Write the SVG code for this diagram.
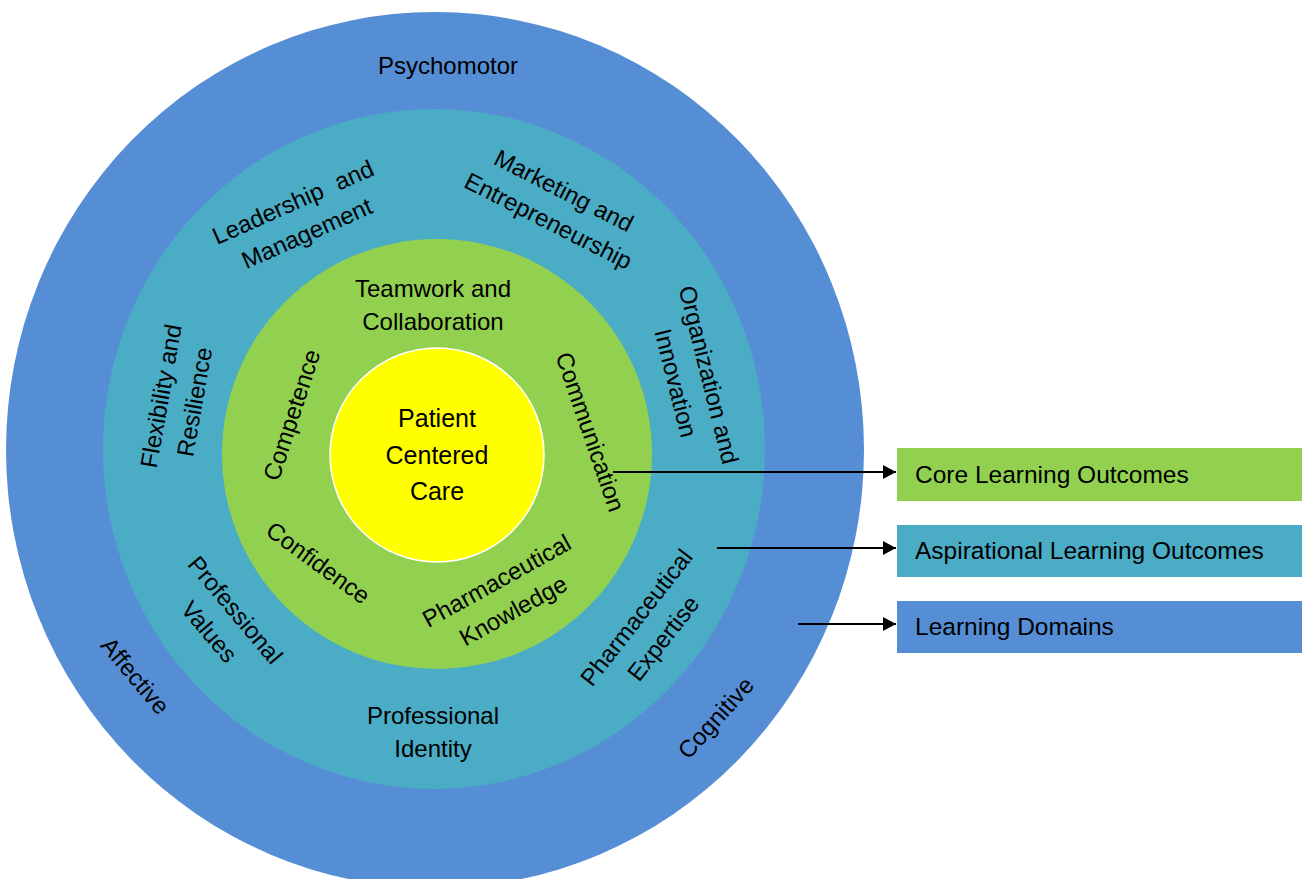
<svg xmlns="http://www.w3.org/2000/svg" width="1302" height="879" viewBox="0 0 1302 879">
<defs>
<style>
text{font-family:"Liberation Sans",Arial,sans-serif;font-size:24px;fill:#000;text-anchor:middle}
.lbl{text-anchor:start;font-size:24.5px}
.conn{stroke:#000;stroke-width:2;fill:none}
</style>
<marker id="ah" markerUnits="userSpaceOnUse" markerWidth="14" markerHeight="14" refX="13" refY="7" orient="auto">
<path d="M0,0 L13,7 L0,14 z" fill="#000"/>
</marker>
</defs>
<rect width="1302" height="879" fill="#fff"/>
<g id="ring-domains">
<ellipse cx="435" cy="450" rx="429" ry="438" fill="#558ED5"/>
<text x="448" y="74">Psychomotor</text>
<text transform="translate(135,676) rotate(50)" y="8">Affective</text>
<text transform="translate(716,718) rotate(-48)" y="8">Cognitive</text>
</g>
<g id="ring-aspirational">
<ellipse cx="434" cy="449" rx="331" ry="340" fill="#4BACC6"/>
<text transform="translate(300,218) rotate(-24)"><tspan x="0" y="-9" word-spacing="8">Leadership and</tspan><tspan x="0" y="25">Management</tspan></text>
<text transform="translate(556,206) rotate(27)"><tspan x="0" y="-9">Marketing and</tspan><tspan x="0" y="25">Entrepreneurship</tspan></text>
<text transform="translate(692,379) rotate(76)"><tspan x="0" y="-9">Organization and</tspan><tspan x="0" y="25">Innovation</tspan></text>
<text transform="translate(178,399) rotate(-80)"><tspan x="0" y="-9">Flexibility and</tspan><tspan x="0" y="25">Resilience</tspan></text>
<text transform="translate(222,621) rotate(50)"><tspan x="0" y="-9">Professional</tspan><tspan x="0" y="25">Values</tspan></text>
<text x="433"><tspan x="433" y="724">Professional</tspan><tspan x="433" y="757">Identity</tspan></text>
<text transform="translate(650,628) rotate(-52)"><tspan x="0" y="-9">Pharmaceutical</tspan><tspan x="0" y="25">Expertise</tspan></text>
</g>
<g id="ring-core">
<circle cx="437" cy="454" r="215" fill="#92D050"/>
<text x="433"><tspan x="433" y="297">Teamwork and</tspan><tspan x="433" y="330">Collaboration</tspan></text>
<text transform="translate(292,415) rotate(-72)" y="8">Competence</text>
<text transform="translate(590,432) rotate(71)" y="8">Communication</text>
<text transform="translate(318,563) rotate(36)" y="8">Confidence</text>
<text transform="translate(505,596) rotate(-29)"><tspan x="0" y="-9">Pharmaceutical</tspan><tspan x="0" y="25">Knowledge</tspan></text>
</g>
<g id="center">
<circle cx="437" cy="455" r="107" fill="#FFFF00" stroke="#fff" stroke-width="1.5"/>
<text style="font-size:25px"><tspan x="437" y="427">Patient</tspan><tspan x="437" y="464">Centered</tspan><tspan x="437" y="500">Care</tspan></text>
</g>
<g id="legend-core">
<rect x="897" y="448" width="405" height="53" fill="#92D050"/>
<text class="lbl" x="915" y="483">Core Learning Outcomes</text>
</g>
<g id="legend-aspirational">
<rect x="897" y="525" width="405" height="52" fill="#4BACC6"/>
<text class="lbl" x="915" y="559">Aspirational Learning Outcomes</text>
</g>
<g id="legend-domains">
<rect x="897" y="601" width="405" height="52" fill="#558ED5"/>
<text class="lbl" x="915" y="635">Learning Domains</text>
</g>
<g id="connectors">
<line class="conn" x1="613" y1="472" x2="896" y2="472" marker-end="url(#ah)"/>
<line class="conn" x1="717" y1="548" x2="896" y2="548" marker-end="url(#ah)"/>
<line class="conn" x1="798" y1="624" x2="896" y2="624" marker-end="url(#ah)"/>
</g>
</svg>
